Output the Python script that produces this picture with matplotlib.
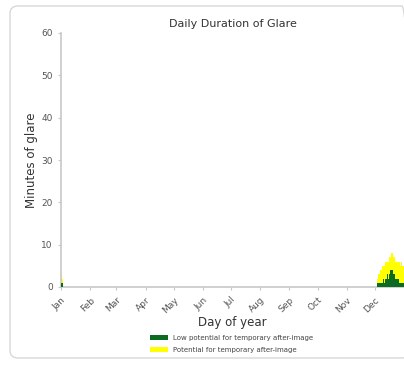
import numpy as np
import matplotlib
matplotlib.use("Agg")
import matplotlib.pyplot as plt
from matplotlib.patches import FancyBboxPatch

# month tick labels
months = ["Jan", "Feb", "Mar", "Apr", "May", "Jun", "Jul", "Aug", "Sep", "Oct", "Nov", "Dec"]
month_starts = [0, 31, 59, 90, 120, 151, 181, 212, 243, 273, 304, 334]

# daily glare minutes (only days with glare)
days = [0, 1, 2,
        336, 337, 338, 339, 340, 341, 342, 343, 344, 345, 346, 347, 348, 349,
        350, 351, 352, 353, 354, 355, 356, 357, 358, 359, 360, 361, 362, 363, 364]
low_potential = [1, 1, 0,
                 1, 1, 1, 1, 1, 1, 1, 2, 1, 2, 2, 3, 2, 3,
                 4, 4, 4, 3, 3, 2, 3, 2, 2, 2, 1, 1, 1, 1, 1]
potential = [2, 1, 0,
             1, 2, 2, 3, 3, 3, 4, 3, 4, 4, 4, 3, 4, 4,
             3, 4, 4, 4, 4, 4, 3, 4, 4, 4, 5, 4, 5, 4, 4]

fig = plt.figure(figsize=(4.04, 3.72), dpi=100)
fig.patch.set_facecolor("white")

# rounded card border
card = FancyBboxPatch((10 / 404, 14 / 372), 400 / 404, 352 / 372,
                      boxstyle="round,pad=0,rounding_size=0.02",
                      transform=fig.transFigure, facecolor="none",
                      edgecolor="#d8d8d8", linewidth=1.0, zorder=-1)
fig.patches.append(card)

ax = fig.add_axes([61 / 404, 1 - 287 / 372, 343 / 404, 254 / 372])
ax.set_facecolor("none")

green = "#0b6b23"
yellow = "#ffff00"
low = np.array(low_potential)
pot = np.array(potential)
ax.bar(days, low, width=1.0, color=green, edgecolor="none", align="edge",
       label="Low potential for temporary after-image", zorder=3)
ax.bar(days, pot, width=1.0, bottom=low, color=yellow, edgecolor="none", align="edge",
       label="Potential for temporary after-image", zorder=2)

ax.set_xlim(0, 365)
ax.set_ylim(0, 60)
ax.set_yticks(range(0, 61, 10))
ax.set_xticks(month_starts)
ax.set_xticklabels(months, rotation=45, ha="right", rotation_mode="anchor")

for s in ["top", "right"]:
    ax.spines[s].set_visible(False)
for s in ["left", "bottom"]:
    ax.spines[s].set_color("#c8c8c8")
    ax.spines[s].set_linewidth(1.2)
ax.tick_params(axis="both", colors="#c8c8c8", labelcolor="#555555", labelsize=6.5,
               length=2.5, width=0.8)

ax.set_title("Daily Duration of Glare", fontsize=8, color="#333333", pad=4)
ax.set_ylabel("Minutes of glare", fontsize=8.5, color="#333333", labelpad=2)
ax.set_xlabel("Day of year", fontsize=8.5, color="#333333", labelpad=1)

handles, labels = ax.get_legend_handles_labels()
fig.legend(handles, labels, loc="center", bbox_to_anchor=(232 / 404, 1 - 344 / 372),
           frameon=False, fontsize=5, labelcolor="#444444", handlelength=2.5,
           handleheight=0.8, labelspacing=0.8)

fig.savefig("out.png", dpi=100, facecolor="white")
